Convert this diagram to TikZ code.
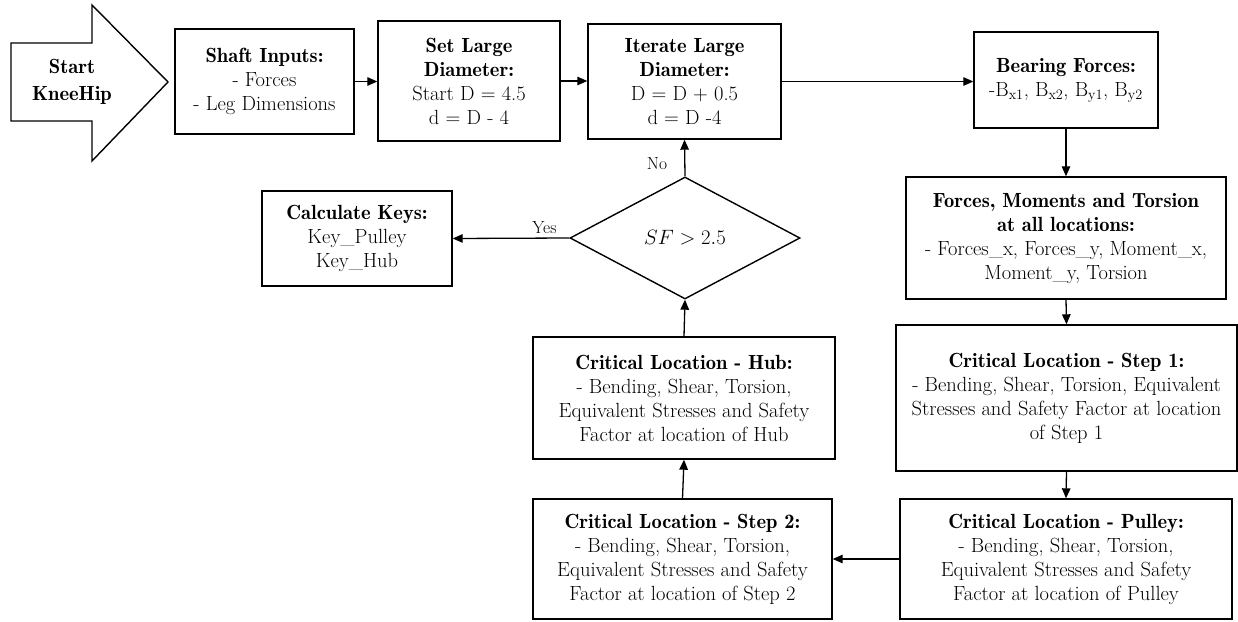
\documentclass[tikz,border=0pt]{standalone}
\usetikzlibrary{shapes.geometric,arrows.meta}
\newcommand\hdtxt[1]{{\fontseries{b}\selectfont #1}}
\begin{document}
\begin{tikzpicture}[x=1pt,y=-1pt,
  box/.style={draw, line width=1.4pt, align=center, inner sep=0pt,
    font=\fontsize{20.5}{24}\selectfont},
  conn/.style={line width=1.3pt, -{Triangle[length=10pt,width=8.5pt]}},
  lbl/.style={font=\fontsize{17.5}{20}\selectfont, inner sep=0pt}]
\useasboundingbox (0,0) rectangle (1238,621);
% start arrow
\draw[line width=1.4pt] (11,43) -- (92,43) -- (92,5) -- (168,82) -- (92,161) -- (92,121) -- (11,121) -- cycle;
\node[font=\fontsize{20.5}{27}\selectfont, align=center] (start) at (72,82) {\hdtxt{Start}\\\hdtxt{KneeHip}};
% boxes
\node[box, minimum width=179pt, minimum height=105pt] (shaft) at (264.5,81.5)
  {\hdtxt{Shaft Inputs:}\\- Forces\\- Leg Dimensions};
\node[box, minimum width=182pt, minimum height=120pt] (set) at (469,81)
  {\hdtxt{Set Large}\\\hdtxt{Diameter:}\\Start D = 4.5\\d = D - 4};
\node[box, minimum width=193pt, minimum height=115pt] (iter) at (684.5,81.5)
  {\hdtxt{Iterate Large}\\\hdtxt{Diameter:}\\D = D + 0.5\\d = D -4};
\node[box, minimum width=184pt, minimum height=96pt] (bear) at (1066,80)
  {\hdtxt{Bearing Forces:}\\-B\textsubscript{x1}, B\textsubscript{x2}, B\textsubscript{y1}, B\textsubscript{y2}};
\node[box, minimum width=320pt, minimum height=122pt] (forces) at (1066,238)
  {\hdtxt{Forces, Moments and Torsion}\\\hdtxt{at all locations:}\\- Forces\_x, Forces\_y, Moment\_x,\\Moment\_y, Torsion};
\node[box, minimum width=341pt, minimum height=146pt] (step1) at (1066.5,398)
  {\hdtxt{Critical Location - Step 1:}\\- Bending, Shear, Torsion, Equivalent\\Stresses and Safety Factor at location\\of Step 1};
\node[box, minimum width=332pt, minimum height=120pt] (pulley) at (1066,559)
  {\hdtxt{Critical Location - Pulley:}\\- Bending, Shear, Torsion,\\Equivalent Stresses and Safety\\Factor at location of Pulley};
\node[box, minimum width=299pt, minimum height=120pt] (step2) at (682.5,559)
  {\hdtxt{Critical Location - Step 2:}\\- Bending, Shear, Torsion,\\Equivalent Stresses and Safety\\Factor at location of Step 2};
\node[box, minimum width=302pt, minimum height=122pt] (hub) at (684,398)
  {\hdtxt{Critical Location - Hub:}\\- Bending, Shear, Torsion,\\Equivalent Stresses and Safety\\Factor at location of Hub};
\node[box, diamond, minimum width=230pt, minimum height=122pt] (dec) at (685,238)
  {$SF > 2.5$};
\node[box, minimum width=190pt, minimum height=95pt] (calc) at (357,238.5)
  {\hdtxt{Calculate Keys:}\\Key\_Pulley\\Key\_Hub};
% connectors
\draw[conn] (shaft.east) -- (shaft.east -| set.west);
\draw[conn] (set.east) -- (set.east -| iter.west);
\draw[conn] (iter.east) -- (iter.east -| bear.west);
\draw[conn] (bear.south) -- (forces.north);
\draw[conn] (forces.south) -- (step1.north);
\draw[conn] (step1.south) -- (pulley.north);
\draw[conn] (pulley.west) -- (step2.east);
\draw[conn] (step2.north) -- (hub.south);
\draw[conn] (hub.north) -- (dec.south);
\draw[conn] (dec.north) -- (iter.south);
\draw[conn] (dec.west) -- (calc.east);
\node[lbl] (no) at (657,164) {No};
\node[lbl] (yes) at (544.5,228) {Yes};
\end{tikzpicture}
\end{document}
